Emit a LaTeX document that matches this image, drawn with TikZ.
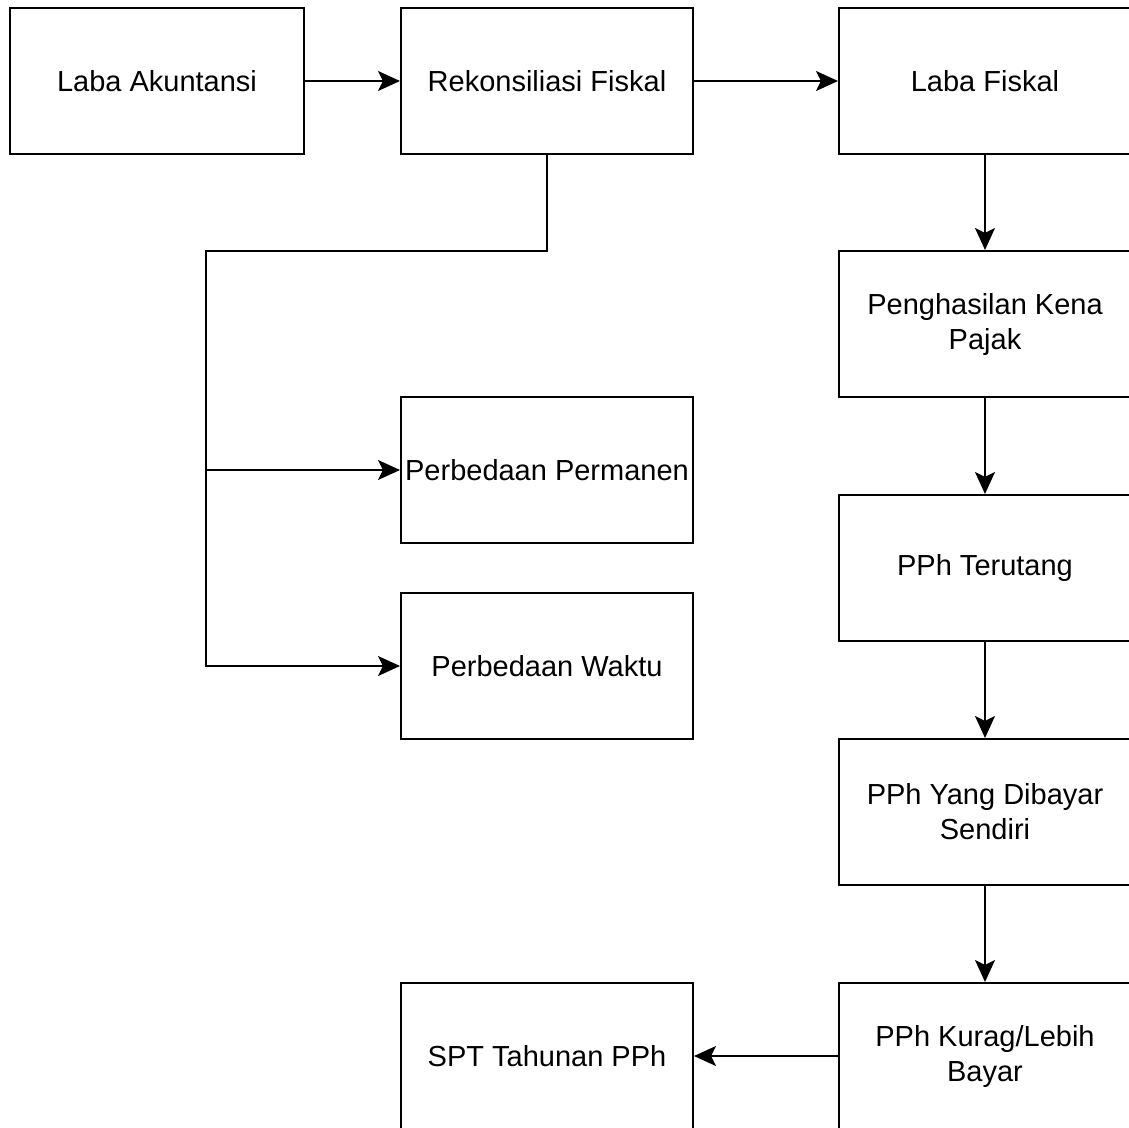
\documentclass[tikz,border=0pt]{standalone}
\usepackage{fontspec}
\setmainfont{Liberation Sans}
\usetikzlibrary{arrows.meta}
\tikzstyle{box}=[draw, line width=2pt, minimum width=292pt, minimum height=146pt, inner sep=0pt, align=center, font=\fontsize{29}{35}\selectfont]
\tikzstyle{flow}=[line width=2pt, -{Stealth[length=22pt, width=20pt, inset=5pt]}]

\begin{document}
\begin{tikzpicture}[x=1pt, y=1pt]
        \useasboundingbox (0, 0) rectangle (1129, -1127);
        \clip (0, 0) rectangle (1129, -1127);
        \node[box, minimum width=294pt] (laba) at (157, -81) {Laba Akuntansi};
        \node[box] (rekon) at (547, -81) {Rekonsiliasi Fiskal};
        \node[box] (fiskal) at (985, -81) {Laba Fiskal};
        \node[box] (pkp) at (985, -324) {Penghasilan Kena\\Pajak};
        \node[box] (permanen) at (547, -470) {Perbedaan Permanen};
        \node[box] (terutang) at (985, -568) {PPh Terutang};
        \node[box] (waktu) at (547, -666) {Perbedaan Waktu};
        \node[box] (sendiri) at (985, -812) {PPh Yang Dibayar\\Sendiri};
        \node[box] (spt) at (547, -1056) {SPT Tahunan PPh};
        \node[box] (kurang) at (985, -1056) {PPh Kurag/Lebih\\Bayar};
        \coordinate (bend) at (206, -251);
        \draw[flow] (laba) -- (rekon);
        \draw[flow] (rekon) -- (fiskal);
        \draw[flow] (rekon.south) -- (rekon.south |- bend) -- (bend) |- (waktu.west);
        \draw[flow] (bend |- permanen.west) -- (permanen.west);
        \draw[flow] (fiskal) -- (pkp);
        \draw[flow] (pkp) -- (terutang);
        \draw[flow] (terutang) -- (sendiri);
        \draw[flow] (sendiri) -- (kurang);
        \draw[flow] (kurang) -- (spt);
    \end{tikzpicture}
\end{document}
